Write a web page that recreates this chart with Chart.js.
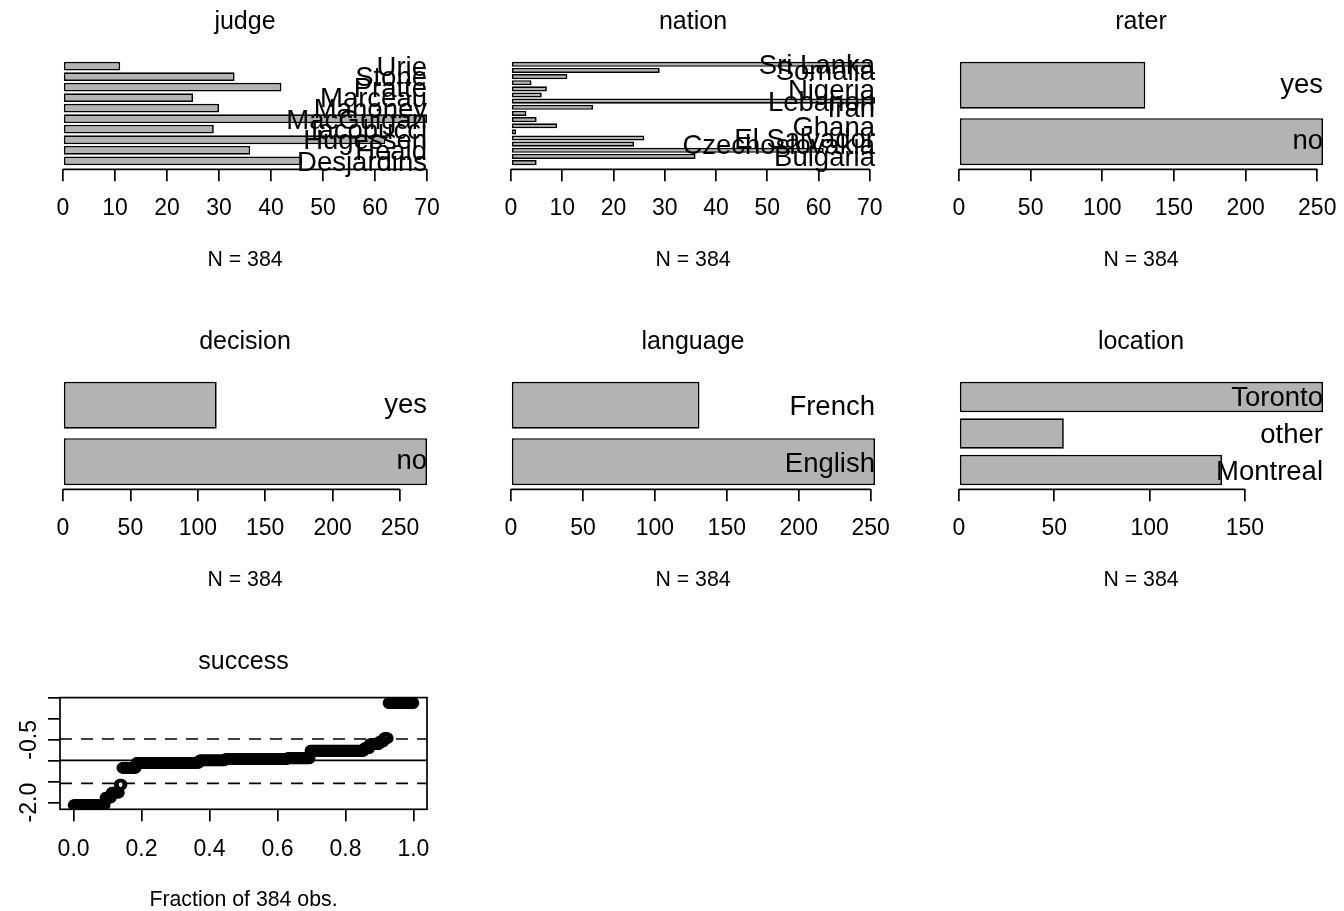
<!DOCTYPE html>
<html>
<head>
<meta charset="utf-8">
<script src="https://cdn.jsdelivr.net/npm/chart.js@4/dist/chart.umd.min.js"></script>
<style>
  html, body { margin: 0; padding: 0; background: #fff; overflow: hidden; }
  canvas { position: absolute; }
</style>
</head>
<body>
<canvas id="judge" width="448" height="320" style="left:0px;top:0px"></canvas>
<canvas id="nation" width="448" height="320" style="left:448px;top:0px"></canvas>
<canvas id="rater" width="448" height="320" style="left:896px;top:0px"></canvas>
<canvas id="decision" width="448" height="320" style="left:0px;top:320px"></canvas>
<canvas id="language" width="448" height="320" style="left:448px;top:320px"></canvas>
<canvas id="location" width="448" height="320" style="left:896px;top:320px"></canvas>
<canvas id="success" width="448" height="320" style="left:0px;top:640px"></canvas>
<script>
// counts per level, first level = bottom bar
const judgeLabels = ["Desjardins", "Heald", "Hugessen", "Iacobucci", "MacGuigan", "Mahoney", "Marceau", "Pratte", "Stone", "Urie"];
const judgeCounts = [46, 36, 62, 29, 70, 30, 25, 42, 33, 11];

const nationLabels = ["Argentina", "Bulgaria", "China", "Czechoslovakia", "El Salvador", "Fiji", "Ghana", "Guatemala",
                      "India", "Iran", "Lebanon", "Nicaragua", "Nigeria", "Pakistan", "Poland", "Somalia", "Sri Lanka"];
const nationCounts = [5, 36, 61, 24, 26, 1, 9, 5, 3, 16, 71, 6, 7, 4, 11, 29, 70];
// names that are actually printed next to the nation bars
const nationShown = ["Bulgaria", "Czechoslovakia", "El Salvador", "Ghana", "Iran", "Lebanon", "Nigeria", "Somalia", "Sri Lanka"];

const raterLabels = ["no", "yes"];
const raterCounts = [254, 130];

const decisionLabels = ["no", "yes"];
const decisionCounts = [270, 114];

const languageLabels = ["English", "French"];
const languageCounts = [253, 131];

const locationLabels = ["Montreal", "other", "Toronto"];
const locationCounts = [138, 55, 191];

// success: sorted distinct values and how many obs have each
const successLevels = [-2.06, -1.88, -1.76, -1.57, -1.17, -1.05, -0.99, -0.96, -0.94, -0.76, -0.70, -0.60, -0.54, -0.46, 0.38];
const successCounts = [36, 7, 9, 3, 16, 71, 29, 70, 26, 61, 6, 11, 5, 5, 29];
const successRefLines = [-1.54, -0.99, -0.48];
const successRefDashed = [true, false, true];
const successYTicks = [-2.0, -1.5, -1.0, -0.5, 0.0, 0.5];
const successYTickLabels = ["-2.0", "-0.5"];

const FONT = '"Liberation Sans", Arial, Helvetica, sans-serif';
Chart.defaults.font.family = FONT;
Chart.defaults.color = "#000";

const LW = 1.7;
const TICK_FONT = 23;
const SUB_FONT = 21.3;

// category names, right aligned at the end of the axis, over the bars
const barLabelPlugin = {
    id: "barLabels",
    afterDatasetsDraw(chart, args, opts) {
        const ctx = chart.ctx;
        const xs = chart.scales.x, ys = chart.scales.y;
        const shown = opts.shown;
        ctx.save();
        ctx.font = "27.5px " + FONT;
        ctx.fillStyle = "#000";
        ctx.textAlign = "right";
        ctx.textBaseline = "alphabetic";
        chart.data.labels.forEach(function (lab, i) {
            if (shown && shown.indexOf(lab) < 0) return;
            const m = ctx.measureText(lab);
            const yc = ys.getPixelForValue(i + 1);
            ctx.fillText(lab, xs.getPixelForValue(xs.max), yc + m.actualBoundingBoxAscent / 2);
        });
        ctx.restore();
    }
};

// R style axis line: from first to last tick only
const axisLinePlugin = {
    id: "axisLine",
    afterDraw(chart) {
        const ctx = chart.ctx;
        const xs = chart.scales.x;
        const t = xs.ticks;
        ctx.save();
        ctx.strokeStyle = "#000";
        ctx.lineWidth = LW;
        ctx.beginPath();
        ctx.moveTo(xs.getPixelForValue(t[0].value), chart.chartArea.bottom);
        ctx.lineTo(xs.getPixelForValue(t[t.length - 1].value), chart.chartArea.bottom);
        ctx.stroke();
        ctx.restore();
    }
};

function titleOpts(text) {
    return {
        display: true,
        text: text,
        fullSize: false,
        font: { size: 25, weight: "normal" },
        padding: { top: 7, bottom: 20.6 }
    };
}

function fitBottomAxis(s) {
    s.height = 110;
    s.paddingLeft = 0;
    s.paddingRight = 0;
}

function barPanel(id, title, labels, counts, step, shown) {
    const n = labels.length;
    const ext = 0.04 * (1.2 * n - 0.2); // R's 4% axis extension, in bar units
    const total = counts.reduce(function (a, b) { return a + b; }, 0);

    new Chart(document.getElementById(id), {
        type: "bar",
        data: {
            labels: labels,
            datasets: [{
                data: counts.map(function (c, i) { return { x: c, y: i + 1 }; }),
                backgroundColor: "#b3b3b3",
                borderColor: "#000",
                borderWidth: LW,
                borderSkipped: false,
                barPercentage: 1 / 1.2,
                categoryPercentage: 1
            }]
        },
        options: {
            indexAxis: "y",
            responsive: false,
            animation: false,
            devicePixelRatio: 1,
            layout: { padding: { left: 63, right: 21, top: 0, bottom: 40.7 } },
            plugins: {
                legend: { display: false },
                tooltip: { enabled: false },
                title: titleOpts(title),
                barLabels: { shown: shown || null }
            },
            scales: {
                x: {
                    type: "linear",
                    min: 0,
                    max: Math.max.apply(null, counts),
                    ticks: { stepSize: step, includeBounds: false, autoSkip: false, maxRotation: 0, font: { size: TICK_FONT }, padding: 14 },
                    grid: { drawOnChartArea: false, tickLength: 12, color: "#000", lineWidth: LW },
                    border: { display: false },
                    title: { display: true, text: "N = " + total, font: { size: SUB_FONT }, padding: { top: 0, bottom: 6.5 } },
                    afterFit: fitBottomAxis
                },
                y: {
                    type: "linear",
                    display: false,
                    offset: false,
                    min: (0.7 - ext) / 1.2,
                    max: (1.2 * n + ext + 0.5) / 1.2,
                    afterBuildTicks: function (s) {
                        s.ticks = labels.map(function (l, i) { return { value: i + 1 }; });
                    }
                }
            }
        },
        plugins: [barLabelPlugin, axisLinePlugin]
    });
}

barPanel("judge", "judge", judgeLabels, judgeCounts, 10);
barPanel("nation", "nation", nationLabels, nationCounts, 10, nationShown);
barPanel("rater", "rater", raterLabels, raterCounts, 50);
barPanel("decision", "decision", decisionLabels, decisionCounts, 50);
barPanel("language", "language", languageLabels, languageCounts, 50);
barPanel("location", "location", locationLabels, locationCounts, 50);

// success: sorted values against fraction of observations
const successValues = [];
successLevels.forEach(function (v, k) {
    for (let j = 0; j < successCounts[k]; j++) successValues.push(v);
});
const nObs = successValues.length;

const boxPlugin = {
    id: "box",
    afterDraw(chart) {
        const a = chart.chartArea, ctx = chart.ctx;
        ctx.save();
        ctx.strokeStyle = "#000";
        ctx.lineWidth = LW;
        ctx.strokeRect(a.left, a.top, a.right - a.left, a.bottom - a.top);
        ctx.restore();
    }
};

const refLinePlugin = {
    id: "refLines",
    afterDatasetsDraw(chart) {
        const a = chart.chartArea, ctx = chart.ctx, ys = chart.scales.y;
        ctx.save();
        ctx.strokeStyle = "#000";
        ctx.lineWidth = LW;
        successRefLines.forEach(function (v, i) {
            const py = ys.getPixelForValue(v);
            ctx.setLineDash(successRefDashed[i] ? [12, 9] : []);
            ctx.beginPath();
            ctx.moveTo(a.left, py);
            ctx.lineTo(a.right, py);
            ctx.stroke();
        });
        ctx.restore();
    }
};

new Chart(document.getElementById("success"), {
    type: "scatter",
    data: {
        datasets: [{
            data: successValues.map(function (v, i) { return { x: i / (nObs - 1), y: v }; }),
            pointStyle: "circle",
            pointRadius: 4.3,
            pointBorderWidth: 3.2,
            pointBackgroundColor: "rgba(0,0,0,0)",
            pointBorderColor: "#000"
        }]
    },
    options: {
        responsive: false,
        animation: false,
        devicePixelRatio: 1,
        layout: { padding: { left: 0, right: 21, top: 0, bottom: 40.7 } },
        plugins: {
            legend: { display: false },
            tooltip: { enabled: false },
            title: titleOpts("success")
        },
        scales: {
            x: {
                type: "linear",
                min: -0.04,
                max: 1.04,
                ticks: {
                    stepSize: 0.2, includeBounds: false, autoSkip: false, maxRotation: 0,
                    font: { size: TICK_FONT }, padding: 15,
                    callback: function (v) { return v.toFixed(1); }
                },
                grid: { drawOnChartArea: false, tickLength: 12, color: "#000", lineWidth: LW },
                border: { display: false },
                title: { display: true, text: "Fraction of " + nObs + " obs.", font: { size: SUB_FONT }, padding: { top: 0, bottom: 6.5 } },
                afterFit: fitBottomAxis
            },
            y: {
                type: "linear",
                min: -2.16,
                max: 0.51,
                afterBuildTicks: function (s) {
                    s.ticks = successYTicks.map(function (v) { return { value: v }; });
                },
                ticks: {
                    autoSkip: false, minRotation: 90, maxRotation: 90, crossAlign: "center",
                    font: { size: TICK_FONT }, padding: -1,
                    callback: function (v) {
                        const s = v.toFixed(1);
                        return successYTickLabels.indexOf(s) >= 0 ? s : "";
                    }
                },
                grid: { drawOnChartArea: false, tickLength: 12, color: "#000", lineWidth: LW },
                border: { display: false },
                afterFit: function (s) { s.width = 60; }
            }
        }
    },
    plugins: [boxPlugin, refLinePlugin]
});
</script>
</body>
</html>
